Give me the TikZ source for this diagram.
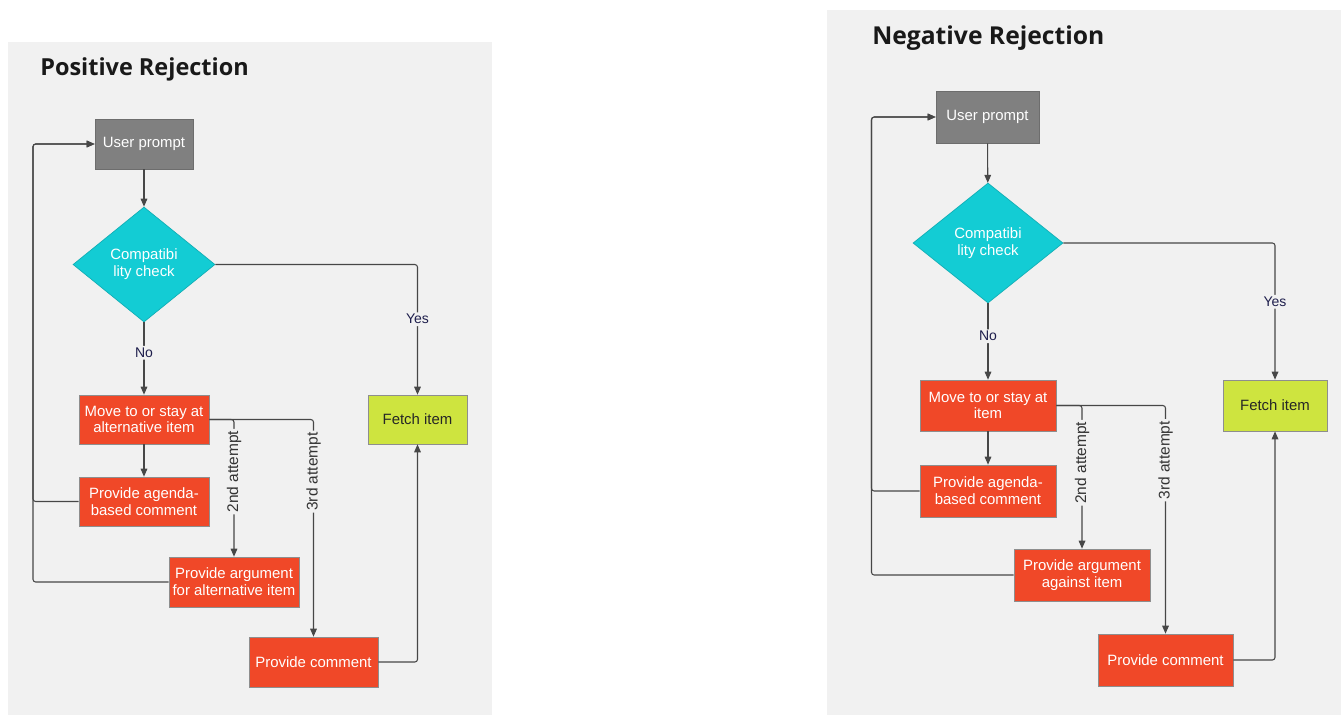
\documentclass[tikz,border=0pt]{standalone}
\usepackage{fontspec}
\setmainfont{Liberation Sans}
\newfontfamily\headfont{Open Sans}
\usepackage{xcolor}
\usepackage{tikz}
\usetikzlibrary{shapes.geometric, arrows.meta}
\definecolor{PanelGray}{HTML}{F1F1F1}
\definecolor{PromptGray}{HTML}{808080}
\definecolor{CheckCyan}{HTML}{13CCD4}
\definecolor{RejectRed}{HTML}{F04828}
\definecolor{FetchLime}{HTML}{CEE43F}
\definecolor{EdgeGray}{HTML}{8E8E8E}
\definecolor{LineGray}{HTML}{474747}
\definecolor{LabelNavy}{HTML}{1E1E4C}
\tikzset{
	wh/.style 2 args={minimum width=#1*0.75pt, minimum height=#2*0.75pt},
	flow/.style={draw=EdgeGray, line width=0.5pt, text=white, align=center, inner sep=1pt, font=\fontsize{11.2}{12.6}\selectfont},
	promptbox/.style={flow, fill=PromptGray, draw=PromptGray!85!black},
	rejectbox/.style={flow, fill=RejectRed},
	fetchbox/.style={flow, fill=FetchLime, text=black!85},
	testdiamond/.style={flow, diamond, fill=CheckCyan, draw=CheckCyan!85!black, inner sep=0pt},
	link/.style={draw=LineGray, line width=0.8pt, rounded corners=2pt, -{Triangle[length=6pt, width=5pt]}},
	linelabel/.style={fill=PanelGray, text=LabelNavy, inner sep=1.5pt, font=\fontsize{10.5}{12}\selectfont},
	tries/.style={linelabel, text=black!80, rotate=90, font=\fontsize{11.6}{13}\selectfont},
	heading/.style={anchor=base west, inner sep=0pt, font=\headfont\bfseries\fontsize{#1}{22}\selectfont, text=black!90},
}

\begin{document}
\begin{tikzpicture}[x=0.75pt, y=-0.75pt]
\useasboundingbox (0,0) rectangle (1341,715);

% panels
\fill[PanelGray] (8,42) rectangle (492,715);
\fill[PanelGray] (827,10) rectangle (1341,715);

% positive rejection
\node[heading=17.6] (ptitle) at (40,75) {Positive Rejection};
\node[promptbox, wh={98}{50}] (puser) at (144,144) {User prompt};
\node[testdiamond, wh={142}{115}] (pcheck) at (144,264.5) {Compatibi\\lity check};
\node[fetchbox, wh={99}{49}] (pfetch) at (417.5,419.5) {Fetch item};
\node[rejectbox, wh={130}{49}] (pmove) at (144,419.5) {Move to or stay at\\alternative item};
\node[rejectbox, wh={130}{49}] (pagenda) at (144,501.5) {Provide agenda-\\based comment};
\node[rejectbox, wh={130}{50}] (pargue) at (234,582) {Provide argument\\for alternative item};
\node[rejectbox, wh={129}{50}] (pcomm) at (313.5,662) {Provide comment};
\coordinate (ploop) at (33,0);

\draw[link] (puser) -- (pcheck);
\draw[link] (pcheck.east) -| node[linelabel, pos=0.71] {Yes} (pfetch.north);
\draw[link] (pcheck.south) -- node[linelabel, pos=0.42] {No} (pmove.north);
\draw[link] (pmove) -- (pagenda);
\draw[link] (pmove.east) -| node[tries, pos=0.69] {2nd attempt} (pargue.north);
\draw[link] (pmove.east) -| node[tries, pos=0.62] {3rd attempt} (pcomm.north);
\draw[link] (pcomm.east) -| (pfetch.south);
\draw[link] (pagenda.west) -- (pagenda.west -| ploop) |- (puser.west);
\draw[link] (pargue.west) -- (pargue.west -| ploop) |- (puser.west);

% negative rejection
\node[heading=18.5] (ntitle) at (872,44) {Negative Rejection};
\node[promptbox, wh={103}{52}] (nuser) at (987.5,117) {User prompt};
\node[testdiamond, wh={150}{120}] (ncheck) at (988,243) {Compatibi\\lity check};
\node[fetchbox, wh={104}{51}] (nfetch) at (1275,405.5) {Fetch item};
\node[rejectbox, wh={136}{51}] (nmove) at (988,405.5) {Move to or stay at\\item};
\node[rejectbox, wh={136}{52}] (nagenda) at (988,491) {Provide agenda-\\based comment};
\node[rejectbox, wh={136}{52}] (nargue) at (1082,575) {Provide argument\\against item};
\node[rejectbox, wh={135}{52}] (ncomm) at (1165.5,660) {Provide comment};
\coordinate (nloop) at (871.5,0);

\draw[link] (nuser) -- (ncheck);
\draw[link] (ncheck.east) -| node[linelabel, pos=0.715] {Yes} (nfetch.north);
\draw[link] (ncheck.south) -- node[linelabel, pos=0.43] {No} (nmove.north);
\draw[link] (nmove) -- (nagenda);
\draw[link] (nmove.east) -| node[tries, pos=0.70] {2nd attempt} (nargue.north);
\draw[link] (nmove.east) -| node[tries, pos=0.62] {3rd attempt} (ncomm.north);
\draw[link] (ncomm.east) -| (nfetch.south);
\draw[link] (nagenda.west) -- (nagenda.west -| nloop) |- (nuser.west);
\draw[link] (nargue.west) -- (nargue.west -| nloop) |- (nuser.west);
\end{tikzpicture}
\end{document}
